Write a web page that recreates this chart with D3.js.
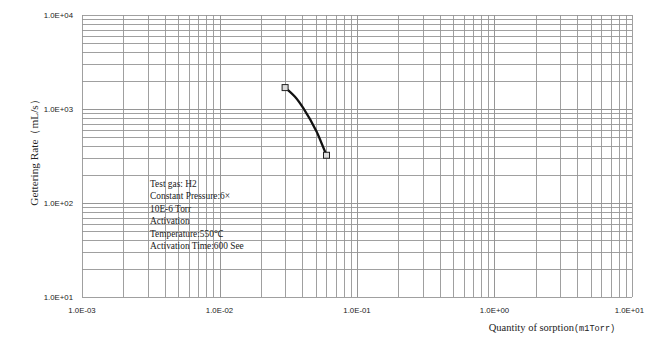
<!DOCTYPE html>
<html>
<head>
<meta charset="utf-8">
<script src="https://cdn.jsdelivr.net/npm/d3@7"></script>
<style>
  html, body { margin: 0; padding: 0; background: #fff; }
  svg { display: block; }
</style>
</head>
<body>
<svg id="chart" width="645" height="337"></svg>
<script>
// Hydrogen sorption: gettering rate vs. quantity sorbed
const quantity = [0.030, 0.0354, 0.0407, 0.0509, 0.060];   // mlTorr
const rate     = [1690, 1350, 1020, 573, 322];              // mL/s
const markerIdx = [0, 4];

const xTicks = [1e-3, 1e-2, 1e-1, 1e0, 1e1];
const xTickLabels = ["1.0E-03", "1.0E-02", "1.0E-01", "1.0E+00", "1.0E+01"];
const yTicks = [1e1, 1e2, 1e3, 1e4];
const yTickLabels = ["1.0E+01", "1.0E+02", "1.0E+03", "1.0E+04"];

const notes = [
  "Test gas: H2",
  "Constant Pressure:6\u00d7",
  "10E-6 Torr",
  "Activation",
  "Temperature:550\u2103",
  "Activation Time:600 See"
];

const W = 645;
const svg = d3.select("#chart");
const m = { left: 82, right: 632, top: 15, bottom: 297 };

const x = d3.scaleLog().domain([1e-3, 1e1]).range([m.left, m.right]);
const y = d3.scaleLog().domain([1e1, 1e4]).range([m.bottom, m.top]);

// minor + major log grid
const minorX = [];
for (let e = -3; e < 1; e++) for (let k = 1; k <= 10; k++) minorX.push(k * Math.pow(10, e));
const minorY = [];
for (let e = 1; e < 4; e++) for (let k = 1; k <= 10; k++) minorY.push(k * Math.pow(10, e));

const grid = svg.append("g").attr("stroke", "#959595").attr("stroke-width", 0.9);
grid.selectAll("line.vx").data(minorX).join("line")
  .attr("x1", d => Math.round(x(d)) + 0.5).attr("x2", d => Math.round(x(d)) + 0.5)
  .attr("y1", m.top).attr("y2", m.bottom);
grid.selectAll("line.hy").data(minorY).join("line")
  .attr("y1", d => Math.round(y(d)) + 0.5).attr("y2", d => Math.round(y(d)) + 0.5)
  .attr("x1", m.left).attr("x2", m.right);

// tick labels (the last one is kept inside the page edge)
const tickFont = "'Liberation Sans', Arial, sans-serif";
svg.append("g").selectAll("text").data(xTicks).join("text")
  .attr("x", d => x(d)).attr("y", 312.5)
  .attr("text-anchor", "middle")
  .attr("font-family", tickFont).attr("font-size", 7.8).attr("fill", "#222")
  .text((d, i) => xTickLabels[i])
  .each(function () {
    const b = this.getBBox();
    if (b.x + b.width > W - 1) d3.select(this).attr("x", +d3.select(this).attr("x") - (b.x + b.width - (W - 1)));
  });

svg.append("g").selectAll("text").data(yTicks).join("text")
  .attr("x", 73).attr("y", d => y(d) + 3)
  .attr("text-anchor", "end")
  .attr("font-family", tickFont).attr("font-size", 7.8).attr("fill", "#222")
  .text((d, i) => yTickLabels[i]);

// axis titles
const serif = "'Liberation Serif', 'Times New Roman', serif";
svg.append("text")
  .attr("transform", "translate(38,150) rotate(-90)")
  .attr("text-anchor", "middle")
  .attr("font-family", serif).attr("font-size", 11.3).attr("fill", "#222")
  .text("Gettering Rate\uff08mL/s\uff09");

const xt = svg.append("text")
  .attr("x", 552).attr("y", 331)
  .attr("text-anchor", "middle")
  .attr("font-family", serif).attr("font-size", 10.5).attr("fill", "#222");
xt.append("tspan").text("Quantity of sorption");
xt.append("tspan").attr("font-family", "'Liberation Mono', monospace").attr("font-size", 8.6).text("(m1Torr)");

// annotation block
svg.append("g").selectAll("text").data(notes).join("text")
  .attr("x", 150).attr("y", (d, i) => 187 + i * 12.4)
  .attr("font-family", serif).attr("font-size", 9.4).attr("fill", "#222")
  .text(d => d);

// curve
const pts = quantity.map((q, i) => [x(q), y(rate[i])]);
svg.append("path")
  .attr("d", d3.line().curve(d3.curveCatmullRom)(pts))
  .attr("fill", "none").attr("stroke", "#111").attr("stroke-width", 2.3);

svg.append("g").selectAll("rect").data(markerIdx).join("rect")
  .attr("x", i => x(quantity[i]) - 3).attr("y", i => y(rate[i]) - 3)
  .attr("width", 6).attr("height", 6)
  .attr("fill", "#ddd").attr("stroke", "#222").attr("stroke-width", 1);
</script>
</body>
</html>
